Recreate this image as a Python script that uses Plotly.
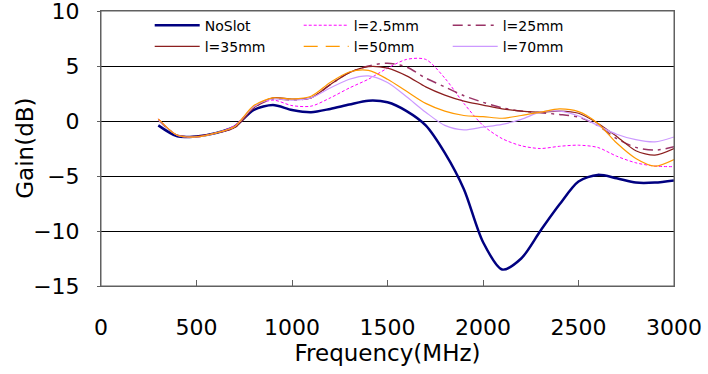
import plotly.graph_objects as go

freq = [300, 400, 500, 600, 700, 800, 900, 1000, 1100, 1200, 1300, 1400, 1500, 1600,
        1700, 1800, 1900, 2000, 2100, 2200, 2300, 2400, 2500, 2600, 2700, 2800, 2900, 3000]

no_slot = [-0.4, -1.4, -1.4, -1.1, -0.5, 1.0, 1.45, 1.0, 0.8, 1.1, 1.5, 1.85, 1.7, 0.9,
           -0.4, -2.9, -6.2, -11.0, -13.5, -12.5, -10.0, -7.6, -5.5, -4.9, -5.2, -5.6, -5.6, -5.4]
l_2_5 = [0.2, -1.3, -1.45, -1.1, -0.4, 1.3, 1.9, 1.4, 1.35, 2.1, 3.0, 3.8, 4.8, 5.6,
         5.6, 3.9, 1.6, -0.4, -1.6, -2.25, -2.5, -2.3, -2.2, -2.4, -3.2, -3.8, -4.1, -4.15]
l_25 = [0.1, -1.3, -1.4, -1.1, -0.6, 1.2, 2.0, 1.9, 2.1, 3.3, 4.4, 5.0, 5.25, 4.9,
        3.9, 3.1, 2.3, 1.7, 1.2, 0.9, 0.75, 0.6, 0.35, -0.4, -1.6, -2.4, -2.65, -2.35]
l_35 = [0.1, -1.3, -1.4, -1.1, -0.6, 1.2, 2.1, 2.0, 2.1, 3.3, 4.4, 4.95, 4.8, 4.1,
        3.1, 2.35, 1.8, 1.45, 1.1, 0.9, 0.8, 0.9, 0.7, -0.2, -1.4, -2.7, -3.1, -2.5]
l_50 = [0.2, -1.3, -1.45, -1.1, -0.5, 1.4, 2.1, 2.0, 2.25, 3.5, 4.45, 4.6, 3.8, 2.7,
        1.6, 0.9, 0.5, 0.4, 0.25, 0.5, 0.8, 1.1, 0.85, -0.2, -2.0, -3.4, -4.1, -3.5]
l_70 = [0.1, -1.3, -1.45, -1.1, -0.5, 1.3, 2.0, 1.9, 2.1, 3.0, 3.8, 4.1, 3.5, 2.2,
        0.8, -0.4, -0.8, -0.55, -0.3, 0.15, 0.8, 0.9, 0.45, -0.4, -1.2, -1.7, -1.9, -1.45]

x_ticks = [0, 500, 1000, 1500, 2000, 2500, 3000]
y_ticks = [-15, -10, -5, 0, 5, 10]

FONT = "DejaVu Sans, Liberation Sans, sans-serif"

fig = go.Figure()

def add(name, y, color, width, dash="solid", showlegend=True):
    fig.add_trace(go.Scatter(x=freq, y=y, name=name, mode="lines",
                             line=dict(color=color, width=width, dash=dash,
                                       shape="spline", smoothing=0.8),
                             showlegend=showlegend))

add("NoSlot", no_slot, "#000080", 2.5)
add("l=2.5mm", l_2_5, "#FF00FF", 1, "3px,2px")
add("l=25mm", l_25, "#993366", 1.5, "10px,5px,3px,5px")
add("l=35mm", l_35, "#8C1F1F", 1.2)
# legend-only swatch for l=50mm (dashed in legend, solid-looking in plot)
fig.add_trace(go.Scatter(x=[None], y=[None], name="l=50mm", mode="lines",
                         line=dict(color="#FF9900", width=1.2, dash="14px,8px")))
add("l=70mm", l_70, "#CC99FF", 1.2)
add("l=50mm", l_50, "#FF9900", 1.2, showlegend=False)

# plot frame
fig.add_shape(type="rect", xref="paper", yref="paper", x0=0, y0=0, x1=1, y1=1,
              line=dict(color="#606060", width=1), layer="above")

# y-axis title as rotated text
fig.add_annotation(text="Gain(dB)", xref="paper", yref="paper", x=-0.134, y=0.5,
                   xanchor="center", yanchor="middle", textangle=-90, showarrow=False,
                   font=dict(size=23, family=FONT, color="black"))

fig.update_layout(
    width=708, height=374,
    margin=dict(l=101, r=34, t=11, b=88, autoexpand=False),
    paper_bgcolor="white", plot_bgcolor="white",
    font=dict(family=FONT, color="black"),
    showlegend=True,
    legend=dict(orientation="h", x=0.085, xanchor="left", y=1.005, yanchor="top",
                entrywidth=89, entrywidthmode="pixels", itemwidth=45,
                font=dict(size=14, family=FONT, color="black"),
                bgcolor="rgba(0,0,0,0)", traceorder="normal", tracegroupgap=0),
    xaxis=dict(range=[0, 3000], tickvals=x_ticks, ticks="inside", ticklen=6,
               tickcolor="#606060", showline=True, linecolor="#606060", mirror=True,
               showgrid=False, zeroline=False, automargin=False,
               tickfont=dict(size=22, family=FONT), ticklabelstandoff=22,
               title=dict(text="Frequency(MHz)", font=dict(size=23, family=FONT), standoff=4)),
    yaxis=dict(range=[-15, 10], tickvals=y_ticks, ticks="outside", ticklen=3,
               tickcolor="#606060", showline=True, linecolor="#606060", mirror=True,
               showgrid=True, gridcolor="#000000", gridwidth=1, zeroline=False,
               ticklabeloverflow="allow", automargin=False,
               tickfont=dict(size=22, family=FONT), ticklabelstandoff=13),
)

fig.write_html("out.html")
